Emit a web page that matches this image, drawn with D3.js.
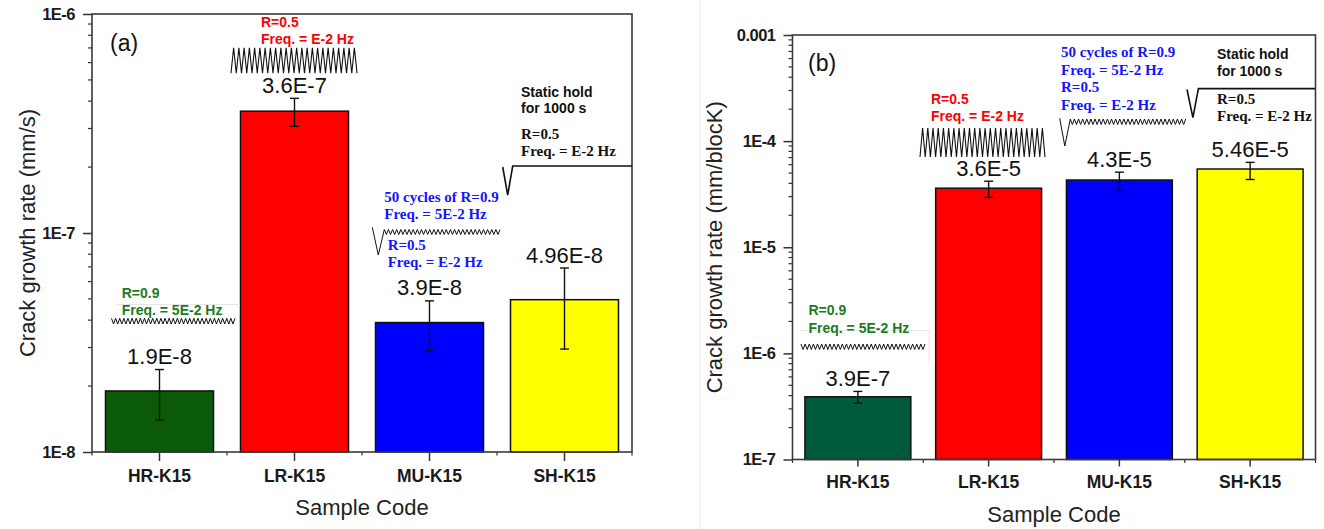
<!DOCTYPE html>
<html>
<head>
<meta charset="utf-8">
<script src="https://cdn.jsdelivr.net/npm/d3@7"></script>
<style>
  html, body { margin: 0; padding: 0; background: #fff; }
  svg { display: block; }
</style>
</head>
<body>
<svg id="chart" width="1324" height="529"></svg>
<script>
// ---- data ----
const categories = ["HR-K15", "LR-K15", "MU-K15", "SH-K15"];

// (a) crack growth rate per time, mm/s
const rateTime      = [1.9e-8, 3.6e-7, 3.9e-8, 4.96e-8];
const rateTimeLow   = [1.40e-8, 3.07e-7, 2.90e-8, 2.95e-8];
const rateTimeHigh  = [2.38e-8, 4.12e-7, 4.90e-8, 6.92e-8];
const rateTimeText  = ["1.9E-8", "3.6E-7", "3.9E-8", "4.96E-8"];
const ticksTime     = [1e-8, 1e-7, 1e-6];
const tickTextTime  = ["1E-8", "1E-7", "1E-6"];

// (b) crack growth rate per block, mm/block
const rateBlock     = [3.9e-7, 3.6e-5, 4.3e-5, 5.46e-5];
const rateBlockLow  = [3.39e-7, 2.95e-5, 3.36e-5, 4.35e-5];
const rateBlockHigh = [4.38e-7, 4.19e-5, 5.10e-5, 6.31e-5];
const rateBlockText = ["3.9E-7", "3.6E-5", "4.3E-5", "5.46E-5"];
const ticksBlock    = [1e-7, 1e-6, 1e-5, 1e-4, 1e-3];
const tickTextBlock = ["1E-7", "1E-6", "1E-5", "1E-4", "0.001"];

const colorsA = ["#0a5a0a", "#ff0000", "#0000ff", "#ffff00"];
const colorsB = ["#005a3c", "#ff0000", "#0000ff", "#ffff00"];

const SANS = "'Liberation Sans', Arial, sans-serif";
const SERIF = "'Liberation Serif', 'Times New Roman', serif";

const svg = d3.select("#chart");
svg.append("rect").attr("width", 1324).attr("height", 529).attr("fill", "#fff");

// faint border of the second figure
svg.append("line").attr("x1", 700).attr("x2", 700).attr("y1", 0).attr("y2", 529)
  .attr("stroke", "#ececec").attr("stroke-width", 1);

function drawPanel(cfg) {
  const g = svg.append("g").attr("transform", `translate(${cfg.left},${cfg.top})`);
  const x = d3.scaleBand().domain(categories).range([0, cfg.width])
    .paddingInner(cfg.pad).paddingOuter(cfg.pad / 2);
  const y = d3.scaleLog().domain(cfg.domain).range([cfg.height, 0]);

  // bars
  g.selectAll("rect.bar").data(cfg.values).join("rect")
    .attr("class", "bar")
    .attr("x", (d, i) => x(categories[i]))
    .attr("width", x.bandwidth())
    .attr("y", d => y(d))
    .attr("height", d => cfg.height - y(d))
    .attr("fill", (d, i) => cfg.colors[i])
    .attr("stroke", "#111").attr("stroke-width", 1.5);

  // error bars
  const cx = i => x(categories[i]) + x.bandwidth() / 2;
  const eb = g.append("g").attr("stroke", "#111").attr("stroke-width", 1.4);
  cfg.values.forEach((v, i) => {
    const yl = y(cfg.low[i]), yh = y(cfg.high[i]);
    eb.append("line").attr("x1", cx(i)).attr("x2", cx(i)).attr("y1", yl).attr("y2", yh);
    eb.append("line").attr("x1", cx(i) - 4.5).attr("x2", cx(i) + 4.5).attr("y1", yl).attr("y2", yl);
    eb.append("line").attr("x1", cx(i) - 4.5).attr("x2", cx(i) + 4.5).attr("y1", yh).attr("y2", yh);
  });

  // value labels
  g.selectAll("text.val").data(cfg.values).join("text")
    .attr("class", "val")
    .attr("x", (d, i) => cx(i))
    .attr("y", (d, i) => y(cfg.high[i]) - 5.5)
    .attr("text-anchor", "middle")
    .attr("font-family", SANS).attr("font-size", 22).attr("fill", "#111")
    .text((d, i) => cfg.text[i]);

  // left axis: major ticks with labels
  const yAxis = d3.axisLeft(y).tickValues(cfg.ticks).tickSize(9).tickPadding(8)
    .tickFormat((d, i) => cfg.tickText[i]);
  const ya = g.append("g").call(yAxis);
  ya.select(".domain").remove();
  ya.selectAll("line").attr("stroke", "#333").attr("stroke-width", 1.5);
  ya.selectAll("text").attr("font-family", SANS).attr("font-weight", "bold")
    .attr("font-size", 16.5).attr("fill", "#1a1a1a").attr("letter-spacing", -0.5);

  // left axis: minor ticks
  const minors = [];
  for (let d = cfg.domain[0]; d < cfg.domain[1] * 0.99; d *= 10) {
    for (let k = 2; k <= 9; k++) minors.push(d * k);
  }
  g.append("g").selectAll("line").data(minors).join("line")
    .attr("x1", -4).attr("x2", 0)
    .attr("y1", d => y(d)).attr("y2", d => y(d))
    .attr("stroke", "#333").attr("stroke-width", 1.2);

  // bottom axis
  const xAxis = d3.axisBottom(x).tickSize(cfg.tickX).tickPadding(cfg.padX);
  const xa = g.append("g").attr("transform", `translate(0,${cfg.height})`).call(xAxis);
  xa.select(".domain").remove();
  xa.selectAll("line").attr("stroke", "#333").attr("stroke-width", 1.5);
  xa.selectAll("text").attr("font-family", SANS).attr("font-weight", "bold")
    .attr("font-size", 17.5).attr("fill", "#1a1a1a");
  g.append("g").selectAll("line").data(d3.range(categories.length + 1)).join("line")
    .attr("x1", i => i * x.step()).attr("x2", i => i * x.step())
    .attr("y1", cfg.height).attr("y2", cfg.height + 3.5)
    .attr("stroke", "#333").attr("stroke-width", 1.2);

  // frame
  g.append("rect").attr("width", cfg.width).attr("height", cfg.height)
    .attr("fill", "none").attr("stroke", "#3a3a3a").attr("stroke-width", 1.6);

  // axis titles
  svg.append("text")
    .attr("transform", `translate(${cfg.yTitleX},${cfg.top + cfg.height / 2}) rotate(-90)`)
    .attr("text-anchor", "middle")
    .attr("font-family", SANS).attr("font-size", 22).attr("fill", "#222")
    .text(cfg.yTitle);
  svg.append("text")
    .attr("x", cfg.left + cfg.width / 2).attr("y", cfg.top + cfg.height + cfg.xTitleDy)
    .attr("text-anchor", "middle")
    .attr("font-family", SANS).attr("font-size", 22).attr("fill", "#222")
    .text("Sample Code");

  // panel tag
  svg.append("text").attr("x", cfg.tagX).attr("y", cfg.tagY)
    .attr("font-family", SANS).attr("font-size", 23).attr("fill", "#111")
    .text(cfg.tag);
}

drawPanel({
  left: 92, top: 14, width: 540, height: 438, pad: 0.2,
  domain: [1e-8, 1e-6], values: rateTime, low: rateTimeLow, high: rateTimeHigh,
  text: rateTimeText, ticks: ticksTime, tickText: tickTextTime, colors: colorsA,
  tickX: 9, padX: 8.5, yTitle: "Crack growth rate (mm/s)", yTitleX: 35, xTitleDy: 63,
  tag: "(a)", tagX: 110, tagY: 50.5
});

drawPanel({
  left: 792.5, top: 35, width: 523, height: 424.5, pad: 0.19,
  domain: [1e-7, 1e-3], values: rateBlock, low: rateBlockLow, high: rateBlockHigh,
  text: rateBlockText, ticks: ticksBlock, tickText: tickTextBlock, colors: colorsB,
  tickX: 7, padX: 9, yTitle: "Crack growth rate (mm/blocK)", yTitleX: 722, xTitleDy: 62.5,
  tag: "(b)", tagX: 808, tagY: 70.5
});

// ---- loading waveform sketches ----
function zigzag(x0, x1, yTop, yBot, n, startTop) {
  const p = (x1 - x0) / n;
  const pts = [];
  const a = startTop ? yTop : yBot, b = startTop ? yBot : yTop;
  for (let i = 0; i < n; i++) {
    pts.push([x0 + i * p, a]);
    pts.push([x0 + (i + 0.5) * p, b]);
  }
  pts.push([x1, a]);
  return pts;
}
const line = d3.line();
function wave(pts, w) {
  svg.append("path").attr("d", line(pts)).attr("fill", "none")
    .attr("stroke", "#111").attr("stroke-width", w).attr("stroke-linejoin", "miter");
}

// (a)
wave(zigzag(231, 357, 47.7, 73.3, 24, false), 1.1);
wave(zigzag(111.5, 235, 318.3, 324, 30, true), 1);
wave([[372.3, 227.3], [378.3, 255], [384.3, 229.5]].concat(zigzag(384.3, 500, 229.5, 234.5, 28, true)), 1);
wave([[502.7, 167], [507.7, 195], [512.7, 166], [632, 166]], 1.6);

// (b)
wave(zigzag(920, 1045, 128, 157, 24, false), 1.1);
wave(zigzag(801, 925, 344, 349.5, 30, true), 1);
wave([[1059.7, 118.3], [1064.8, 146], [1070.3, 119]].concat(zigzag(1070.3, 1185.7, 119, 124.5, 28, true)), 1);
wave([[1187, 89.5], [1192.9, 117.6], [1198.4, 88.6], [1315, 88.6]], 1.6);

// faint text-box edges
svg.append("path").attr("d", "M117,304.5H240").attr("stroke", "#e6e6e6").attr("fill", "none");
svg.append("path").attr("d", "M800,330.5H929V362").attr("stroke", "#e6e6e6").attr("fill", "none");

// ---- annotation text ----
function note(x, y, lines, color, family, size, gap) {
  lines.forEach((t, i) => {
    svg.append("text").attr("x", x).attr("y", y + i * gap)
      .attr("font-family", family).attr("font-weight", "bold")
      .attr("font-size", size).attr("fill", color).text(t);
  });
}
const RED = "#ff0000", BLUE = "#1414ff", GREEN = "#1f7a1f", BLACK = "#111";

// (a)
note(261, 26.5, ["R=0.5", "Freq. = E-2 Hz"], RED, SANS, 14, 17.5);
note(521, 96.5, ["Static hold", "for 1000 s"], BLACK, SANS, 14, 16.5);
note(521, 139, ["R=0.5", "Freq. = E-2 Hz"], BLACK, SERIF, 15, 17);
note(384.3, 202, ["50 cycles of R=0.9", "Freq. = 5E-2 Hz"], BLUE, SERIF, 15, 17);
note(387.7, 250, ["R=0.5", "Freq. = E-2 Hz"], BLUE, SERIF, 15, 16.5);
note(121.7, 298.3, ["R=0.9", "Freq. = 5E-2 Hz"], GREEN, SANS, 14, 16.7);

// (b)
note(931, 103.5, ["R=0.5", "Freq. = E-2 Hz"], RED, SANS, 14, 17.5);
note(1061, 57, ["50 cycles of R=0.9", "Freq. = 5E-2 Hz", "R=0.5", "Freq. = E-2 Hz"], BLUE, SERIF, 15, 17.7);
note(1217, 58.5, ["Static hold", "for 1000 s"], BLACK, SANS, 14, 17.5);
note(1217, 103.5, ["R=0.5", "Freq. = E-2 Hz"], BLACK, SERIF, 15, 17.5);
note(808.5, 315, ["R=0.9", "Freq. = 5E-2 Hz"], GREEN, SANS, 14, 17.5);
</script>
</body>
</html>
